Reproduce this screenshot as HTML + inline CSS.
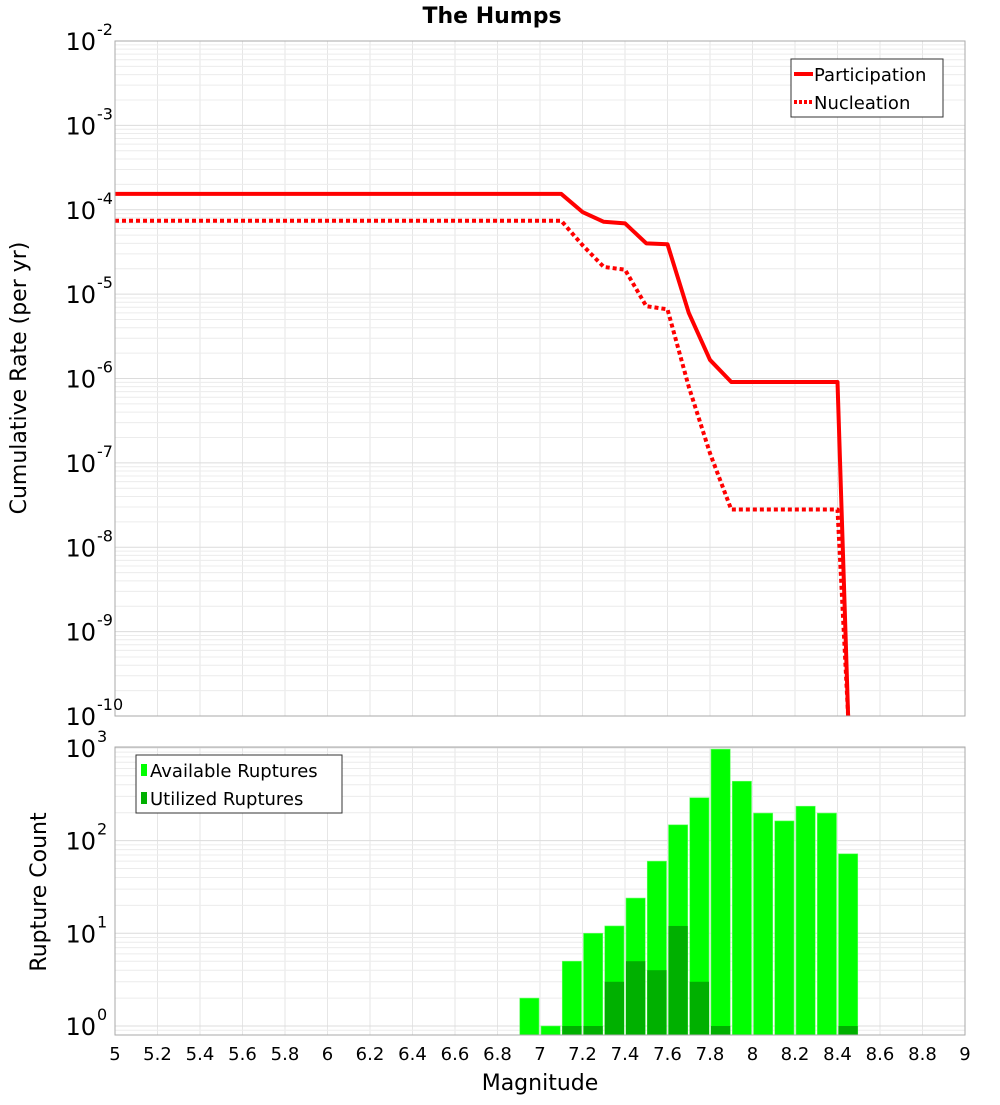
<!DOCTYPE html>
<html><head><meta charset="utf-8"><style>
body{margin:0;background:#fff;}
svg text{font-family:"DejaVu Sans","Liberation Sans",sans-serif;}
</style></head><body>
<svg id="chart" width="1000" height="1100" xmlns="http://www.w3.org/2000/svg">
<text x="492" y="23" text-anchor="middle" font-size="22" font-weight="bold">The Humps</text>
<g id="topPlot"></g>
<g id="botPlot"></g>
<text transform="translate(26,378) rotate(-90)" text-anchor="middle" font-size="22">Cumulative Rate (per yr)</text>
<text transform="translate(46,892) rotate(-90)" text-anchor="middle" font-size="22">Rupture Count</text>
<text x="540" y="1090" text-anchor="middle" font-size="22">Magnitude</text>
</svg>
<script>
const partMags=[5,7.1,7.2,7.3,7.4,7.5,7.6,7.7,7.8,7.9,8.4,8.45];
const partRates=[1.54e-4,1.54e-4,9.4e-5,7.2e-5,6.9e-5,4.0e-5,3.9e-5,6.0e-6,1.66e-6,9.1e-7,9.1e-7,1e-11];
const nuclMags=[5,7.1,7.2,7.3,7.4,7.5,7.6,7.7,7.8,7.9,8.4,8.45];
const nuclRates=[7.4e-5,7.4e-5,3.8e-5,2.1e-5,1.95e-5,7.2e-6,6.6e-6,8e-7,1.3e-7,2.8e-8,2.8e-8,1e-11];
const binMags=[6.95,7.05,7.15,7.25,7.35,7.45,7.55,7.65,7.75,7.85,7.95,8.05,8.15,8.25,8.35,8.45];
const availCounts=[2,1,5,10,12,24,60,148,290,970,437,198,163,235,198,72];
const usedCounts=[0,0,1,1,3,5,4,12,3,1,0,0,0,0,0,1];
const xTicks=[5,5.2,5.4,5.6,5.8,6,6.2,6.4,6.6,6.8,7,7.2,7.4,7.6,7.8,8,8.2,8.4,8.6,8.8,9];
const topExps=[-2,-3,-4,-5,-6,-7,-8,-9,-10];
const botExps=[3,2,1,0];

const NS="http://www.w3.org/2000/svg";
const X0=115,X1=965;
const xs=m=>X0+(m-5)/4*(X1-X0);
const T0=41,T1=716; const ty=v=>T0+(-2-Math.log10(v))/8*(T1-T0);
const B0=747,B1=1035; const BD=92.7; const by=v=>1026-Math.log10(v)*BD;
function mk(p,t,a){const e=document.createElementNS(NS,t);for(const k in a)e.setAttribute(k,a[k]);p.appendChild(e);return e;}
const gTop=document.getElementById('topPlot'),gBot=document.getElementById('botPlot');
function grid(g,y0,y1,yf,exps){
  for(const m of xTicks){const l=mk(g,'line',{x1:xs(m),x2:xs(m),y1:y0,y2:y1,stroke:'#e6e6e6','stroke-width':1});
  
  }
  const lo=Math.min(...exps)-1,hi=Math.max(...exps);
  for(let e=lo;e<=hi;e++)for(let k=1;k<10;k++){const y=yf(k*Math.pow(10,e));if(y<y0-0.5||y>y1+0.5)continue;
    const l=mk(g,'line',{x1:X0,x2:X1,y1:y,y2:y,stroke:k==1?'#dcdcdc':'#ececec','stroke-width':1});
    
    }
}
grid(gTop,T0,T1,ty,topExps);grid(gBot,B0,B1,by,botExps);
binMags.forEach((m,i)=>{
  const x=xs(m-0.05)+1,w=xs(m+0.05)-xs(m-0.05)-2;
  const y=by(availCounts[i]);
  const r=mk(gBot,'rect',{x:x,y:y,width:w,height:B1-y,fill:'#00ff00',stroke:'#66ff66','stroke-width':0.6});
  
  
  if(usedCounts[i]>0){const y2=by(usedCounts[i]);
    const r2=mk(gBot,'rect',{x:x,y:y2,width:w,height:B1-y2,fill:'#00b000'});
    
    }
});
function line(ms,vs,dash,name){
  const pts=ms.map((m,i)=>xs(m)+','+Math.min(ty(vs[i]),T1)).join(' ');
  const a={points:pts,fill:'none',stroke:'#ff0000','stroke-width':4,'stroke-linejoin':'round'};
  if(dash)a['stroke-dasharray']='4,3';
  const p=mk(gTop,'polyline',a);
  
  
}
line(partMags,partRates,false,'participation-line');
line(nuclMags,nuclRates,true,'nucleation-line');
mk(gTop,'rect',{x:X0,y:T0,width:X1-X0,height:T1-T0,fill:'none',stroke:'#aaa'});
mk(gBot,'rect',{x:X0,y:B0,width:X1-X0,height:B1-B0,fill:'none',stroke:'#aaa'});
function ylab(g,y,e,name){
  const t=mk(g,'text',{x:96,y:y+9,'text-anchor':'end','font-size':24});
  t.textContent='10';
  
  
  const s=mk(g,'text',{x:97,y:y-6,'font-size':16});s.textContent=String(e);
}
topExps.forEach(e=>ylab(gTop,ty(Math.pow(10,e)),e,'y-tick-rate'));
botExps.forEach(e=>ylab(gBot,by(Math.pow(10,e)),e,'y-tick-count'));
xTicks.forEach(m=>{const t=mk(gBot,'text',{x:xs(m),y:1060,'text-anchor':'middle','font-size':18});
  t.textContent=String(m);
  
  });
function legend(g,x,y,w,items,name){
  const gg=mk(g,'g',{});
  
  
  mk(gg,'rect',{x:x,y:y,width:w,height:58,fill:'#fff',stroke:'#333'});
  items.forEach((it,i)=>{const yy=y+15+i*28;
    if(it.bar)mk(gg,'rect',{x:x+5,y:yy-6,width:6,height:12,fill:it.c});
    else mk(gg,'line',{x1:x+3,x2:x+22,y1:yy,y2:yy,stroke:it.c,'stroke-width':4,'stroke-dasharray':it.d||'none'});
    const t=mk(gg,'text',{x:x+(it.bar?14:23),y:yy+7,'font-size':18});t.textContent=it.t;});
}
legend(gTop,791,59,152,[{c:'#f00',t:'Participation'},{c:'#f00',t:'Nucleation',d:'3,2'}],'rate-legend');
legend(gBot,136,755,206,[{c:'#00ff00',t:'Available Ruptures',bar:1},{c:'#00b000',t:'Utilized Ruptures',bar:1}],'count-legend');
</script>
</body></html>
